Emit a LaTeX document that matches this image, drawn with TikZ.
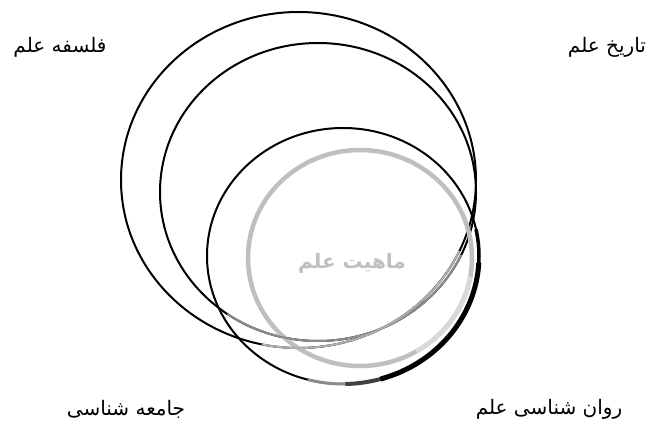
\documentclass[tikz,border=0pt]{standalone}
\usepackage{fontspec}
\usepackage{tikz}
\usetikzlibrary{shapes.geometric}
\TeXXeTstate=1
\newfontfamily\farsifont[Script=Arabic]{DejaVu Sans}
\definecolor{ringgray}{HTML}{BFBFBF}
\definecolor{fadegray}{HTML}{8C8C8C}
\definecolor{palegray}{HTML}{D9D9D9}

\begin{document}
\begin{tikzpicture}[x=1pt, y=1pt,
    ring/.style={draw, ellipse, inner sep=0pt, line width=2pt},
    farsi/.style={font=\farsifont\fontsize{20}{24}\selectfont}]
    \useasboundingbox (0,0) rectangle (657,431);

    \node [ring, minimum width=355pt, minimum height=336pt] (falsafe) at (298.5,251) {};
    \node [ring, minimum width=316pt, minimum height=298pt] (tarikh) at (318,239) {};
    \node [ring, minimum width=272pt, minimum height=256pt] (ravan) at (343,175) {};
    \node [ring, ringgray, line width=4.5pt, minimum width=224pt, minimum height=216pt] (jameeh) at (360,173) {};

    % faded lower edges
    \draw [fadegray, line width=2pt] (tarikh.center) ++(235:158pt and 149pt)
        arc[start angle=235, end angle=335, x radius=158pt, y radius=149pt];
    \draw [fadegray!70, line width=2pt] (falsafe.center) ++(258:177.5pt and 168pt)
        arc[start angle=258, end angle=335, x radius=177.5pt, y radius=168pt];
    \draw [palegray, line width=4.5pt] (jameeh.center) ++(300:112pt and 108pt)
        arc[start angle=300, end angle=350, x radius=112pt, y radius=108pt];
    % heavy lower edge
    \draw [fadegray, line width=3pt] (ravan.center) ++(255:136pt and 128pt)
        arc[start angle=255, end angle=272, x radius=136pt, y radius=128pt];
    \draw [black!75, line width=4pt] (ravan.center) ++(271:136pt and 128pt)
        arc[start angle=271, end angle=287, x radius=136pt, y radius=128pt];
    \draw [black, line width=5pt] (ravan.center) ++(286:136pt and 128pt)
        arc[start angle=286, end angle=357, x radius=136pt, y radius=128pt];
    \draw [black, line width=3.5pt] (ravan.center) ++(356:136pt and 128pt)
        arc[start angle=356, end angle=372, x radius=136pt, y radius=128pt];

    \node [farsi] (lfalsafe) at (60,384) {\beginR فلسفه علم\endR};
    \node [farsi] (ltarikh) at (607,384) {\beginR تاریخ علم\endR};
    \node [farsi] (ljameeh) at (126,22) {\beginR جامعه شناسی\endR};
    \node [farsi] (lravan) at (549,22) {\beginR روان شناسی علم\endR};
    \node [farsi, font=\farsifont\bfseries\fontsize{20}{24}\selectfont, ringgray] (mahiat) at (352,168) {\beginR ماهیت علم\endR};
\end{tikzpicture}
\end{document}
